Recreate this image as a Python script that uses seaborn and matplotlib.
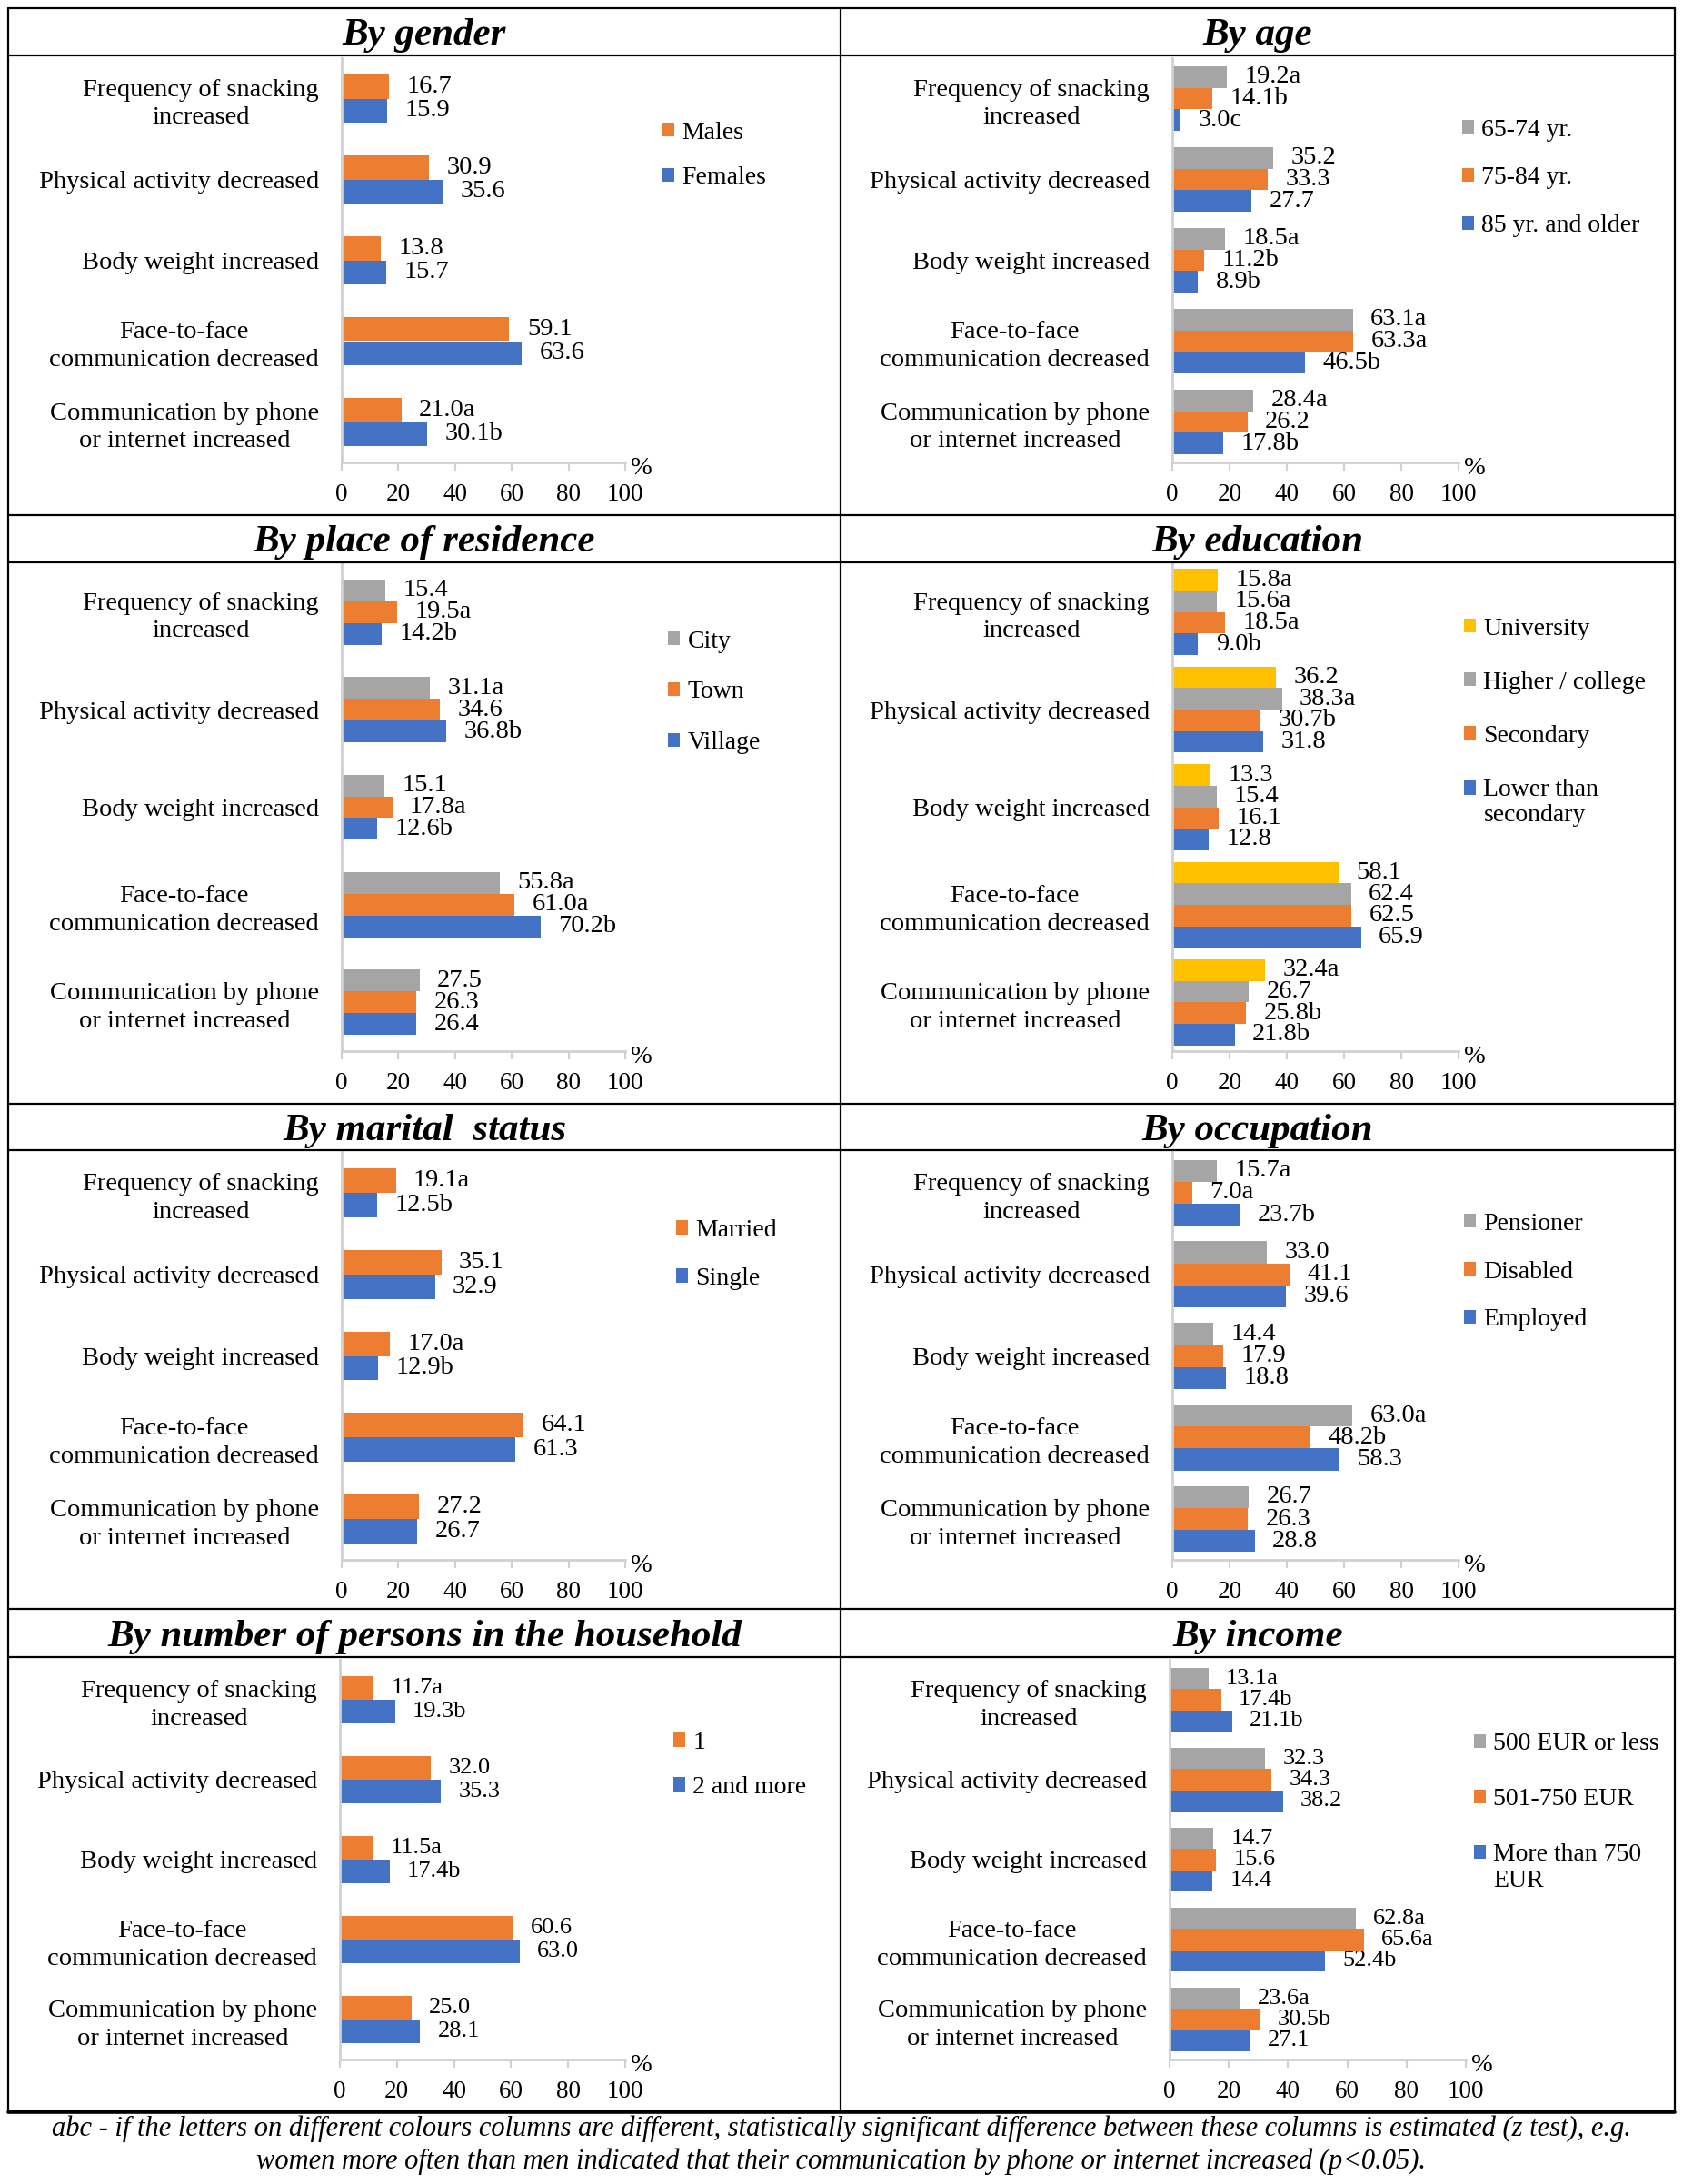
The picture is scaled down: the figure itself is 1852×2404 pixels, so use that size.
import numpy as np
import pandas as pd
import seaborn as sns
import matplotlib
matplotlib.use("Agg")
import matplotlib.pyplot as plt
from matplotlib.lines import Line2D
from matplotlib.patches import Patch

# ---------------- data ----------------
CATEGORIES = ["Frequency of snacking\nincreased",
              "Physical activity decreased",
              "Body weight increased",
              "Face-to-face\ncommunication decreased",
              "Communication by phone\nor internet increased"]

ORANGE, BLUE, GRAY, YELLOW = "#ED7D31", "#4472C4", "#A5A5A5", "#FFC000"

GENDER_GROUPS = ["Males", "Females"]
GENDER_VALUES = [[16.7, 30.9, 13.8, 59.1, 21.0],
                 [15.9, 35.6, 15.7, 63.6, 30.1]]
GENDER_SIG = [["", "", "", "", "a"],
              ["", "", "", "", "b"]]

AGE_GROUPS = ["65-74 yr.", "75-84 yr.", "85 yr. and older"]
AGE_VALUES = [[19.2, 35.2, 18.5, 63.1, 28.4],
              [14.1, 33.3, 11.2, 63.3, 26.2],
              [3.0, 27.7, 8.9, 46.5, 17.8]]
AGE_SIG = [["a", "", "a", "a", "a"],
           ["b", "", "b", "a", ""],
           ["c", "", "b", "b", "b"]]

PLACE_GROUPS = ["City", "Town", "Village"]
PLACE_VALUES = [[15.4, 31.1, 15.1, 55.8, 27.5],
                [19.5, 34.6, 17.8, 61.0, 26.3],
                [14.2, 36.8, 12.6, 70.2, 26.4]]
PLACE_SIG = [["", "a", "", "a", ""],
             ["a", "", "a", "a", ""],
             ["b", "b", "b", "b", ""]]

EDU_GROUPS = ["University", "Higher / college", "Secondary", "Lower than\nsecondary"]
EDU_VALUES = [[15.8, 36.2, 13.3, 58.1, 32.4],
              [15.6, 38.3, 15.4, 62.4, 26.7],
              [18.5, 30.7, 16.1, 62.5, 25.8],
              [9.0, 31.8, 12.8, 65.9, 21.8]]
EDU_SIG = [["a", "", "", "", "a"],
           ["a", "a", "", "", ""],
           ["a", "b", "", "", "b"],
           ["b", "", "", "", "b"]]

MARITAL_GROUPS = ["Married", "Single"]
MARITAL_VALUES = [[19.1, 35.1, 17.0, 64.1, 27.2],
                  [12.5, 32.9, 12.9, 61.3, 26.7]]
MARITAL_SIG = [["a", "", "a", "", ""],
               ["b", "", "b", "", ""]]

OCC_GROUPS = ["Pensioner", "Disabled", "Employed"]
OCC_VALUES = [[15.7, 33.0, 14.4, 63.0, 26.7],
              [7.0, 41.1, 17.9, 48.2, 26.3],
              [23.7, 39.6, 18.8, 58.3, 28.8]]
OCC_SIG = [["a", "", "", "a", ""],
           ["a", "", "", "b", ""],
           ["b", "", "", "", ""]]

HH_GROUPS = ["1", "2 and more"]
HH_VALUES = [[11.7, 32.0, 11.5, 60.6, 25.0],
             [19.3, 35.3, 17.4, 63.0, 28.1]]
HH_SIG = [["a", "", "a", "", ""],
          ["b", "", "b", "", ""]]

INC_GROUPS = ["500 EUR or less", "501-750 EUR", "More than 750\nEUR"]
INC_VALUES = [[13.1, 32.3, 14.7, 62.8, 23.6],
              [17.4, 34.3, 15.6, 65.6, 30.5],
              [21.1, 38.2, 14.4, 52.4, 27.1]]
INC_SIG = [["a", "", "", "a", "a"],
           ["b", "", "", "a", "b"],
           ["b", "", "", "b", ""]]

X_TICKS = [0, 20, 40, 60, 80, 100]

CAPTION_1 = ("abc - if the letters on different colours columns are different, statistically "
             "significant difference between these columns is estimated (z test), e.g.")
CAPTION_2 = ("women more often than men indicated that their communication by phone or "
             "internet increased (p<0.05).")

# ---------------- layout (pixels) ----------------
W, H = 1852, 2404
DPI = 100

def fx(x):
    return x / W

def fy(y):
    return 1 - y / H

ROW_LINES = [9, 61, 567, 619, 1215, 1266, 1771, 1824, 2324]
ROW_TITLE_Y = [39, 597, 1245, 1802]
ROW_AX_Y = [(64, 509), (620, 1157), (1268, 1717), (1827, 2267)]
COL_TITLE_X = [467, 1384]

PANELS = [
    dict(title="By gender", groups=GENDER_GROUPS, values=GENDER_VALUES, sig=GENDER_SIG,
         colors=[ORANGE, BLUE], row=0, col=0, xr=(376, 688), lx=729, ly=171, sp=49, w=0.585, vfs=20.5),
    dict(title="By age", groups=AGE_GROUPS, values=AGE_VALUES, sig=AGE_SIG,
         colors=[GRAY, ORANGE, BLUE], row=0, col=1, xr=(1290, 1605), lx=1609, ly=196, sp=52, w=0.8, vfs=20.5),
    dict(title="By place of residence", groups=PLACE_GROUPS, values=PLACE_VALUES, sig=PLACE_SIG,
         colors=[GRAY, ORANGE, BLUE], row=1, col=0, xr=(376, 688), lx=735, ly=762, sp=55, w=0.67, vfs=20.5),
    dict(title="By education", groups=EDU_GROUPS, values=EDU_VALUES, sig=EDU_SIG,
         colors=[YELLOW, GRAY, ORANGE, BLUE], row=1, col=1, xr=(1290, 1605), lx=1611, ly=795, sp=58,
         w=0.88, vfs=20.5, shift=16),
    dict(title="By marital  status", groups=MARITAL_GROUPS, values=MARITAL_VALUES, sig=MARITAL_SIG,
         colors=[ORANGE, BLUE], row=2, col=0, xr=(376, 688), lx=744, ly=1381, sp=52, w=0.6, vfs=20.5),
    dict(title="By occupation", groups=OCC_GROUPS, values=OCC_VALUES, sig=OCC_SIG,
         colors=[GRAY, ORANGE, BLUE], row=2, col=1, xr=(1290, 1605), lx=1611, ly=1400, sp=52, w=0.81, vfs=20.5),
    dict(title="By number of persons in the household", groups=HH_GROUPS, values=HH_VALUES, sig=HH_SIG,
         colors=[ORANGE, BLUE], row=3, col=0, xr=(374, 688), lx=741, ly=1943, sp=48, w=0.59, vfs=19),
    dict(title="By income", groups=INC_GROUPS, values=INC_VALUES, sig=INC_SIG,
         colors=[GRAY, ORANGE, BLUE], row=3, col=1, xr=(1287, 1613), lx=1622, ly=1995, sp=60,
         w=0.8, vfs=19, shift=17),
]

# ---------------- style ----------------
sns.set_theme(style="white")
plt.rcParams["font.family"] = ["Liberation Serif", "DejaVu Serif"]
plt.rcParams["text.color"] = "black"

AXIS_GRAY = "#D0D0D0"
TEXT_PX = 27.8  # 20 pt at 100 dpi

fig = plt.figure(figsize=(W / DPI, H / DPI), dpi=DPI)
fig.patch.set_facecolor("white")

for p in PANELS:
    y0, y1 = ROW_AX_Y[p["row"]]
    x0, x1 = p["xr"]
    ax = fig.add_axes([fx(x0), fy(y1), (x1 - x0) / W, (y1 - y0) / H])

    rows = []
    for g, vals in zip(p["groups"], p["values"]):
        for c, v in zip(CATEGORIES, vals):
            rows.append({"category": c, "group": g, "value": v})
    df = pd.DataFrame(rows)

    sns.barplot(data=df, x="value", y="category", hue="group", order=CATEGORIES,
                hue_order=p["groups"], palette=p["colors"], orient="h", width=p["w"],
                errorbar=None, saturation=1, linewidth=0, legend=False, ax=ax)

    for cont, vals, sig in zip(ax.containers, p["values"], p["sig"]):
        labels = [f"{v:.1f}{s}" for v, s in zip(vals, sig)]
        ax.bar_label(cont, labels=labels, padding=14, fontsize=p["vfs"], color="black")

    ax.set_xlim(0, 100)
    ax.set_ylim(4.5, -0.5)
    ax.set_xticks(X_TICKS)
    ax.set_xlabel("")
    ax.set_ylabel("")
    ax.set_facecolor("none")
    for s in ["top", "right"]:
        ax.spines[s].set_visible(False)
    for s in ["left", "bottom"]:
        ax.spines[s].set_color(AXIS_GRAY)
        ax.spines[s].set_linewidth(2)
    ax.tick_params(axis="x", direction="out", length=6.5, width=1.5, color=AXIS_GRAY,
                   pad=10, labelsize=19.5, labelcolor="black", bottom=True)
    ax.tick_params(axis="y", length=0, pad=18, labelsize=20.5, labelcolor="black")
    for lab in ax.get_yticklabels():
        lab.set_multialignment("center")
        lab.set_linespacing(1.3)

    ax.annotate("%", xy=(1, 0), xycoords="axes fraction", xytext=(13, -5),
                textcoords="offset points", ha="center", va="center", fontsize=20.5)

    ls = (p["sp"] - 24) / TEXT_PX
    handles = [Patch(facecolor=c, edgecolor="none") for c in p["colors"]]
    leg = ax.legend(handles=handles, labels=p["groups"], loc="center left",
                    bbox_to_anchor=(fx(p["lx"]), fy(p["ly"])), bbox_transform=fig.transFigure,
                    frameon=False, fontsize=20, handlelength=0.47, handleheight=0.47,
                    handletextpad=0.3, labelspacing=ls, borderpad=0, borderaxespad=0)
    if p.get("shift"):
        h = leg.legend_handles[-1]
        h.set_y(h.get_y() + p["shift"] * 72 / DPI)

    fig.text(fx(COL_TITLE_X[p["col"]]), fy(ROW_TITLE_Y[p["row"]]), p["title"],
             ha="center", va="center", fontsize=31, fontweight="bold", fontstyle="italic")

# ---------------- frame lines ----------------
for y in ROW_LINES:
    fig.add_artist(Line2D([fx(9), fx(1843)], [fy(y), fy(y)], transform=fig.transFigure,
                          color="black", linewidth=1.6))
fig.add_artist(Line2D([fx(9), fx(1843)], [fy(2325), fy(2325)], transform=fig.transFigure,
                      color="black", linewidth=2.6))
for x in [9, 925, 1843]:
    fig.add_artist(Line2D([fx(x), fx(x)], [fy(9), fy(2324)], transform=fig.transFigure,
                          color="black", linewidth=1.6))

# ---------------- caption ----------------
fig.text(fx(926), fy(2343), CAPTION_1, ha="center", va="center", fontsize=22, fontstyle="italic")
fig.text(fx(926), fy(2379), CAPTION_2, ha="center", va="center", fontsize=22, fontstyle="italic")

fig.savefig("out.png", dpi=DPI, facecolor="white")
